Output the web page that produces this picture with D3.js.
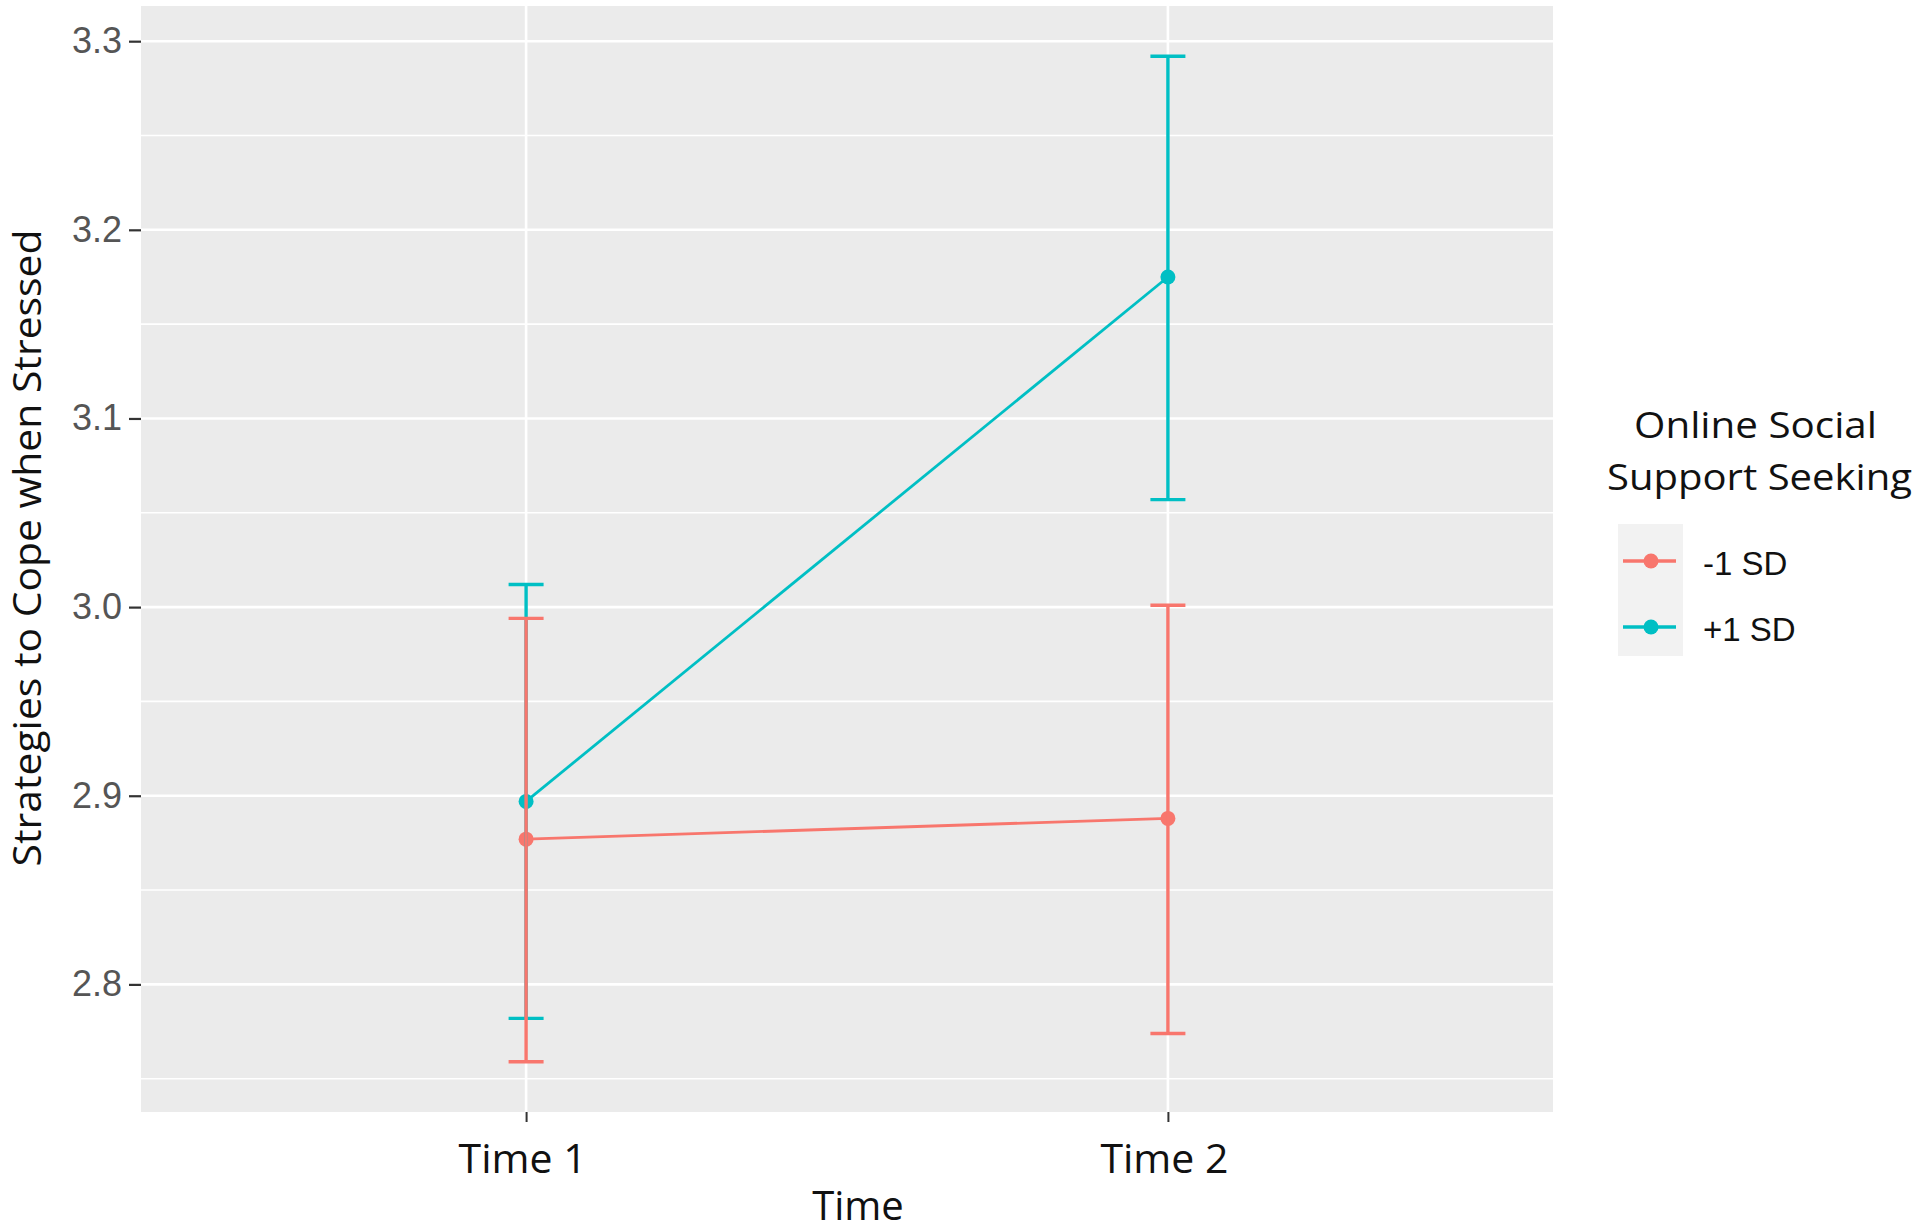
<!DOCTYPE html>
<html>
<head>
<meta charset="utf-8">
<script src="https://cdn.jsdelivr.net/npm/d3@7"></script>
<style>
  html, body { margin: 0; padding: 0; background: #ffffff; }
  svg { display: block; }
</style>
</head>
<body>
<svg id="chart" width="1920" height="1232"></svg>
<script>
// ---- Data ----
const categories = ["Time 1", "Time 2"];
const groups = ["-1 SD", "+1 SD"];
const groupColors = ["#F8766D", "#00BFC4"];
const meanLow  = [2.877, 2.888];
const lowerLow = [2.759, 2.774];
const upperLow = [2.994, 3.001];
const meanHigh  = [2.897, 3.175];
const lowerHigh = [2.782, 3.057];
const upperHigh = [3.012, 3.292];
const yTicks = [2.8, 2.9, 3.0, 3.1, 3.2, 3.3];
const yMinorTicks = [2.75, 2.85, 2.95, 3.05, 3.15, 3.25];
const xTitle = "Time";
const yTitle = "Strategies to Cope when Stressed";
const legendTitle = ["Online Social", "Support  Seeking"];

// ---- Layout ----
const panel = { left: 141, right: 1553, top: 6, bottom: 1112 };
const svg = d3.select("#chart");

const series = [
  { name: groups[0], color: groupColors[0], mean: meanLow, lo: lowerLow, hi: upperLow },
  { name: groups[1], color: groupColors[1], mean: meanHigh, lo: lowerHigh, hi: upperHigh }
];

const allVals = [].concat(lowerLow, upperLow, lowerHigh, upperHigh);
const yMin = d3.min(allVals), yMax = d3.max(allVals);
const pad = (yMax - yMin) * 0.05;
const y = d3.scaleLinear().domain([yMin - pad, yMax + pad]).range([panel.bottom, panel.top]);

// discrete scale with ggplot expansion of 0.6
const xIdx = d3.scaleLinear().domain([0.4, categories.length + 0.6]).range([panel.left, panel.right]);
const x = c => xIdx(categories.indexOf(c) + 1);

// panel background
svg.append("rect")
  .attr("x", panel.left).attr("y", panel.top)
  .attr("width", panel.right - panel.left).attr("height", panel.bottom - panel.top)
  .attr("fill", "#EBEBEB");

// minor gridlines
svg.append("g").selectAll("line").data(yMinorTicks.filter(v => y(v) <= panel.bottom && y(v) >= panel.top))
  .join("line")
  .attr("x1", panel.left).attr("x2", panel.right)
  .attr("y1", d => y(d)).attr("y2", d => y(d))
  .attr("stroke", "#ffffff").attr("stroke-width", 1.6);

// major gridlines
svg.append("g").selectAll("line").data(yTicks)
  .join("line")
  .attr("x1", panel.left).attr("x2", panel.right)
  .attr("y1", d => y(d)).attr("y2", d => y(d))
  .attr("stroke", "#ffffff").attr("stroke-width", 2.6);
svg.append("g").selectAll("line").data(categories)
  .join("line")
  .attr("x1", d => x(d)).attr("x2", d => x(d))
  .attr("y1", panel.top).attr("y2", panel.bottom)
  .attr("stroke", "#ffffff").attr("stroke-width", 2.6);

// y axis
const yAxis = d3.axisLeft(y).tickValues(yTicks).tickFormat(d3.format(".1f")).tickSize(12).tickPadding(7);
const gy = svg.append("g").attr("transform", `translate(${panel.left},0)`).call(yAxis);
gy.select(".domain").remove();
gy.selectAll(".tick line").attr("stroke", "#333333").attr("stroke-width", 2.2);
gy.selectAll(".tick text")
  .attr("fill", "#555555")
  .attr("font-family", "'Liberation Sans', Arial, sans-serif")
  .attr("font-size", 36);

// x axis
const xAxisScale = d3.scalePoint().domain(categories)
  .range([x(categories[0]), x(categories[categories.length - 1])]);
const xAxis = d3.axisBottom(xAxisScale).tickSize(10).tickPadding(22);
const gx = svg.append("g").attr("transform", `translate(0,${panel.bottom})`).call(xAxis);
gx.select(".domain").remove();
gx.selectAll(".tick line").attr("stroke", "#333333").attr("stroke-width", 2);
gx.selectAll(".tick text")
  .attr("fill", "#111111")
  .attr("font-family", "'Open Sans', sans-serif")
  .attr("font-size", 41)
  .attr("dx", -4);

// axis titles
svg.append("text")
  .attr("x", 858).attr("y", 1220)
  .attr("text-anchor", "middle")
  .attr("font-family", "'Open Sans', sans-serif")
  .attr("font-size", 40)
  .attr("fill", "#111111")
  .text(xTitle);

svg.append("text")
  .attr("transform", "translate(41,548) rotate(-90)")
  .attr("text-anchor", "middle")
  .attr("font-family", "'Open Sans', sans-serif")
  .attr("font-size", 38)
  .attr("textLength", 637)
  .attr("lengthAdjust", "spacingAndGlyphs")
  .attr("fill", "#111111")
  .text(yTitle);

// connecting lines
const line = d3.line().x((d, i) => x(categories[i])).y(d => y(d));
const drawOrder = [series[1], series[0]];
const gLines = svg.append("g");
drawOrder.forEach(s => {
  gLines.append("path")
    .attr("d", line(s.mean))
    .attr("fill", "none")
    .attr("stroke", s.color)
    .attr("stroke-width", 2.8);
});
// points
const gPts = svg.append("g");
drawOrder.forEach(s => {
  gPts.selectAll(null).data(s.mean).join("circle")
    .attr("cx", (d, i) => x(categories[i]))
    .attr("cy", d => y(d))
    .attr("r", 7.5)
    .attr("fill", s.color);
});
// error bars
const capHalf = 17.5;
const gErr = svg.append("g");
drawOrder.forEach(s => {
  const g = gErr.append("g").attr("stroke", s.color).attr("stroke-width", 3.4).attr("fill", "none");
  categories.forEach((c, i) => {
    const cx = x(c);
    g.append("line").attr("x1", cx).attr("x2", cx).attr("y1", y(s.lo[i])).attr("y2", y(s.hi[i]));
    g.append("line").attr("x1", cx - capHalf).attr("x2", cx + capHalf).attr("y1", y(s.lo[i])).attr("y2", y(s.lo[i]));
    g.append("line").attr("x1", cx - capHalf).attr("x2", cx + capHalf).attr("y1", y(s.hi[i])).attr("y2", y(s.hi[i]));
  });
});

// legend
const legend = svg.append("g");
const titleX = [1634, 1607];
const titleW = [243, 305];
legend.selectAll("text.title").data(legendTitle).join("text")
  .attr("class", "title")
  .attr("x", (d, i) => titleX[i])
  .attr("y", (d, i) => 438 + i * 52)
  .attr("font-family", "'Open Sans', sans-serif")
  .attr("font-size", 37)
  .attr("textLength", (d, i) => titleW[i])
  .attr("lengthAdjust", "spacingAndGlyphs")
  .attr("fill", "#111111")
  .text(d => d);

const keyTop = 524, keyH = 66, keyLeft = 1618, keyW = 65;
legend.append("rect")
  .attr("x", keyLeft).attr("y", keyTop)
  .attr("width", keyW).attr("height", keyH * series.length)
  .attr("fill", "#F2F2F2");
series.forEach((s, i) => {
  const cy = keyTop + keyH * i + keyH / 2 + 4;
  legend.append("line")
    .attr("x1", keyLeft + 5).attr("x2", keyLeft + keyW - 7)
    .attr("y1", cy).attr("y2", cy)
    .attr("stroke", s.color).attr("stroke-width", 3.4);
  legend.append("circle")
    .attr("cx", keyLeft + 33).attr("cy", cy).attr("r", 7.5).attr("fill", s.color);
  legend.append("text")
    .attr("x", 1703).attr("y", cy + 14)
    .attr("font-family", "'Liberation Sans', Arial, sans-serif")
    .attr("font-size", 33)
    .attr("fill", "#111111")
    .text(s.name);
});
</script>
</body>
</html>
